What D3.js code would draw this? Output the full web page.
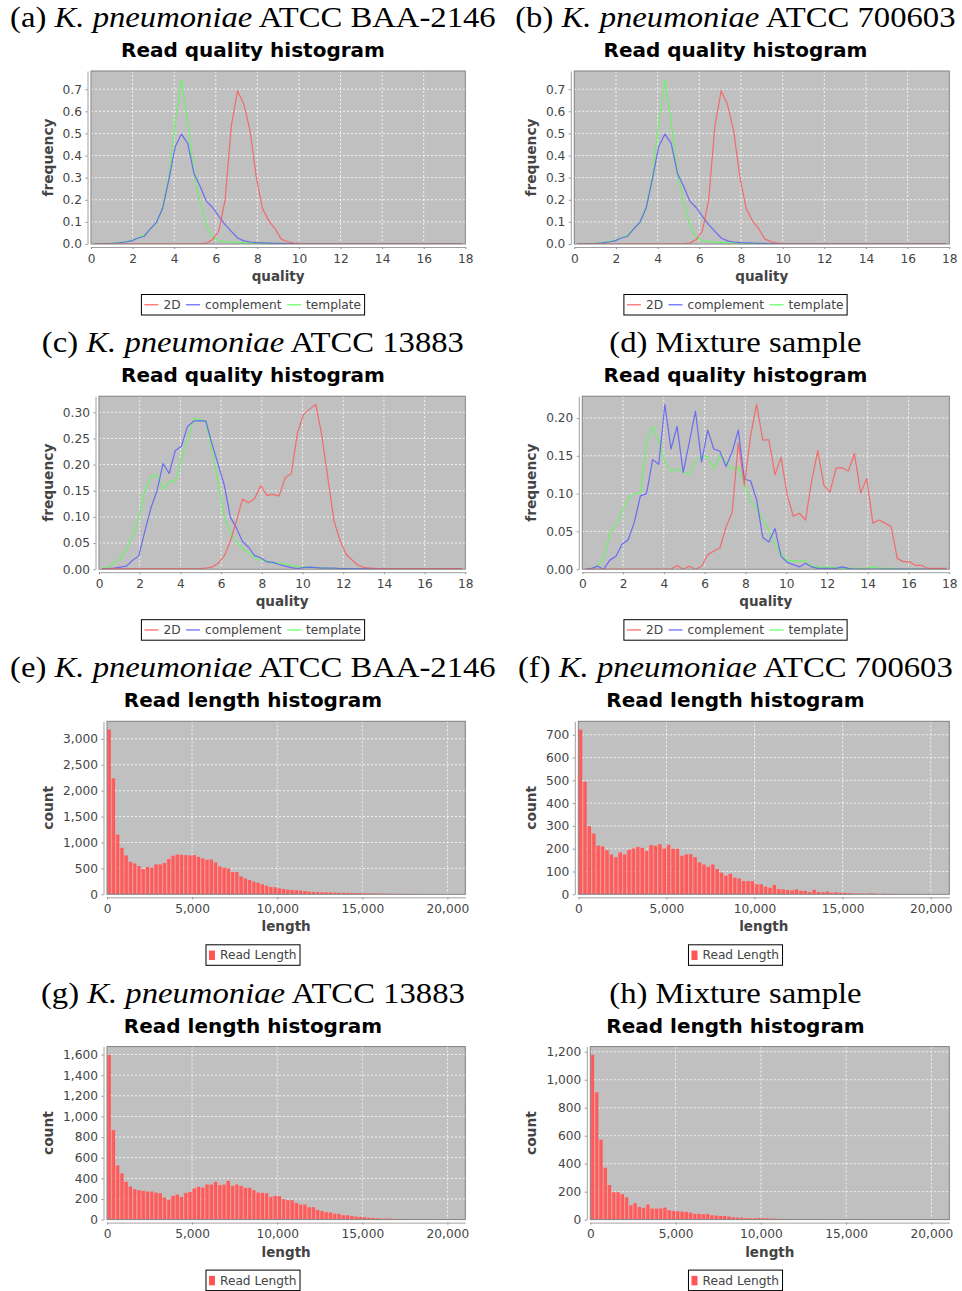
<!DOCTYPE html>
<html>
<head>
<meta charset="utf-8">
<script src="https://cdnjs.cloudflare.com/ajax/libs/d3/7.8.5/d3.min.js"></script>
<style>
body { margin: 0; background: #fff; }
svg { display: block; }
</style>
</head>
<body>
<script>
// quality bin centres
const qualityBins = [0.15,0.45,0.75,1.05,1.35,1.65,1.95,2.25,2.55,2.85,3.15,3.45,3.75,4.05,4.35,4.65,4.95,5.25,5.55,5.85,
  6.15,6.45,6.75,7.05,7.35,7.65,7.95,8.25,8.55,8.85,9.15,9.45,9.75,10.05,10.35,10.65,10.95,11.25,11.55,11.85,
  12.15,12.45,12.75,13.05,13.35,13.65,13.95,14.25,14.55,14.85,15.15,15.45,15.75,16.05,16.35,16.65,16.95,17.25,17.55,17.85];

const seriesNames = ["2D", "complement", "template"];
const seriesColors = ["#ff5555", "#5555ff", "#55ff55"];

// BAA-2146 (a), also 700603 (b) looks the same
const a2D = [0.001,0.001,0.001,0.001,0.001,0.001,0.001,0.001,0.001,0.001,
  0.001,0.001,0.001,0.001,0.001,0.001,0.001,0.002,0.004,0.02,
  0.06,0.2,0.535,0.692,0.632,0.512,0.3,0.16,0.105,0.07,
  0.022,0.01,0.004,0.002,0.001,0.001,0.001,0.001,0.001,0.001,
  0.001,0.001,0.001,0.001,0.001,0.001,0.001,0.001,0.001,0.001,
  0.001,0.001,0.001,0.001,0.001,0.001,0.001,0.001,0.001,0.001];
const aComplement = [0,0.001,0.002,0.003,0.005,0.009,0.014,0.027,0.034,0.068,
  0.098,0.163,0.295,0.44,0.497,0.455,0.32,0.26,0.193,0.165,
  0.125,0.088,0.057,0.027,0.014,0.009,0.006,0.005,0.004,0.003,
  0.003,0.002,0.002,0.001,0.001,0.001,0.001,0.001,0.001,0.001,
  0.001,0.001,0.001,0.001,0.001,0.001,0.001,0.001,0.001,0.001,
  0.001,0.001,0.001,0.001,0.001,0.001,0.001,0.001,0.001,0.001];
const aTemplate = [0.001,0.002,0.003,0.004,0.006,0.01,0.016,0.026,0.04,0.066,
  0.097,0.165,0.302,0.55,0.745,0.55,0.32,0.188,0.085,0.03,
  0.016,0.011,0.008,0.007,0.006,0.005,0.004,0.004,0.003,0.003,
  0.002,0.002,0.002,0.002,0.002,0.001,0.001,0.001,0.001,0.001,
  0.001,0.001,0.001,0.001,0.001,0.001,0.001,0.001,0.001,0.001,
  0.001,0.001,0.001,0.001,0.001,0.001,0.001,0.001,0.001,0.001];

// 13883 (c)
const c2D = [0.001,0.001,0.001,0.001,0.001,0.001,0.001,0.001,0.001,0.001,
  0.001,0.001,0.001,0.001,0.001,0.001,0.001,0.002,0.004,0.011,
  0.025,0.053,0.092,0.134,0.127,0.135,0.16,0.141,0.143,0.14,
  0.175,0.183,0.26,0.296,0.306,0.315,0.256,0.173,0.092,0.054,
  0.028,0.017,0.007,0.003,0.002,0.001,0.001,0.001,0.001,0.001,
  0.001,0.001,0.001,0.001,0.001,0.001,0.001,0.001,0.001,0.001];
const cComplement = [0,0.001,0.002,0.004,0.006,0.017,0.025,0.072,0.117,0.15,
  0.202,0.183,0.227,0.235,0.273,0.283,0.284,0.283,0.24,0.201,
  0.162,0.1,0.079,0.053,0.042,0.026,0.022,0.014,0.013,0.009,
  0.006,0.003,0.001,0.003,0.004,0.003,0.002,0.002,0.002,0.001,
  0.001,0.001,0.001,0.001,0.001,0.001,0.001,0.001,0.001,0.001,
  0.001,0.001,0.001,0.001,0.001,0.001,0.001,0.001,0.001,0.001];
const cTemplate = [0.001,0.004,0.012,0.021,0.037,0.065,0.098,0.15,0.177,0.181,
  0.153,0.167,0.168,0.212,0.245,0.288,0.286,0.282,0.227,0.168,
  0.102,0.07,0.053,0.04,0.032,0.022,0.018,0.015,0.012,0.011,
  0.01,0.007,0.005,0.004,0.004,0.003,0.002,0.002,0.001,0.001,
  0.001,0.001,0.001,0.001,0.001,0.001,0.001,0.001,0.001,0.001,
  0.001,0.001,0.001,0.001,0.001,0.001,0.001,0.001,0.001,0.001];

// mixture (d)
const d2D = [0,0,0,0,0,0,0,0,0,0,
  0,0,0,0,0,0.005,0,0.004,0,0.004,
  0.019,0.024,0.028,0.056,0.075,0.167,0.111,0.176,0.218,0.171,
  0.171,0.125,0.148,0.098,0.07,0.074,0.065,0.117,0.157,0.111,
  0.102,0.134,0.134,0.13,0.153,0.101,0.12,0.061,0.065,0.061,
  0.056,0.014,0.01,0.01,0.005,0.005,0.001,0.001,0.001,0.001];
const dComplement = [0,0.001,0.004,0,0.012,0.017,0.033,0.039,0.062,0.097,
  0.1,0.145,0.139,0.218,0.159,0.189,0.128,0.168,0.209,0.142,
  0.184,0.159,0.156,0.136,0.155,0.184,0.119,0.117,0.092,0.042,
  0.036,0.054,0.017,0.009,0.006,0.003,0.008,0.003,0.001,0.001,
  0.001,0.001,0.003,0.001,0,0,0,0,0,0,
  0,0,0,0,0,0,0,0,0,0];
const dTemplate = [0,0,0.004,0.015,0.047,0.058,0.076,0.094,0.1,0.101,
  0.168,0.189,0.17,0.142,0.129,0.133,0.129,0.125,0.143,0.15,
  0.149,0.133,0.151,0.142,0.132,0.135,0.113,0.09,0.08,0.066,
  0.052,0.032,0.021,0.011,0.011,0.011,0.011,0.004,0.003,0.003,
  0.002,0.002,0.001,0.001,0.001,0.001,0.001,0.003,0.001,0.001,
  0.001,0,0,0,0,0,0,0,0,0];

// read length histograms, bins of 250
const lengthBinWidth = 250;
const eLength = [3180,2237,1154,897,750,628,596,545,487,526,
  513,577,577,603,680,744,769,763,756,750,
  756,724,692,667,673,615,538,513,500,429,
  429,346,308,276,244,224,192,167,141,135,
  115,103,90,83,77,70,64,51,45,44,
  40,38,36,34,32,30,28,26,25,22,
  20,19,17,15,14,13,12,11,10,9,
  9,8,8,7,7,6,6,5,5,5,
  4,4,3,3];
const fLength = [723,494,299,267,214,210,194,175,163,184,
  175,195,201,208,204,190,216,213,220,201,
  217,200,200,169,175,176,163,140,131,121,
  131,111,95,82,90,73,69,58,58,58,
  44,44,34,29,41,23,22,19,17,22,
  15,15,10,20,10,9,12,7,9,7,
  6,5,4,4,3,3,4,3,2,3,
  2,2,2,1,2,1,2,1,1,2,
  1,1,1,1];
const gLength = [1597,868,525,447,366,321,295,285,279,272,
  272,262,256,214,194,230,243,220,259,269,
  301,317,311,340,340,366,334,340,376,327,
  340,327,308,308,285,262,259,256,220,230,
  227,198,188,188,162,146,146,120,120,94,
  84,71,68,58,55,42,42,36,29,26,
  23,19,16,13,10,10,10,8,6,6,
  5,5,4,4,4,3,3,3,2,2,
  2,2,2,1];
const hLength = [1178,910,572,371,247,196,196,182,160,103,
  117,91,84,108,79,79,79,86,67,62,
  60,57,55,50,41,41,38,41,31,29,
  26,26,22,17,15,14,10,10,10,12,
  10,10,7,7,5,5,4,4,4,3,
  3,3,3,3,2,2,2,2,2,2,
  2,2,5,2,1,1,1,1,1,1,
  2,1,1,1,1,1,1,1,1,1,
  1,1,1,1];

const qualityTicks = [0,2,4,6,8,10,12,14,16,18];
const lengthTicks = [0,5000,10000,15000,20000];
const yTicksA = [0,0.1,0.2,0.3,0.4,0.5,0.6,0.7];
const yTicksC = [0,0.05,0.1,0.15,0.2,0.25,0.3];
const yTicksD = [0,0.05,0.1,0.15,0.2];
const yTicksE = [0,500,1000,1500,2000,2500,3000];
const yTicksF = [0,100,200,300,400,500,600,700];
const yTicksG = [0,200,400,600,800,1000,1200,1400,1600];
const yTicksH = [0,200,400,600,800,1000,1200];

const width = 962, height = 1291;
const sans = "DejaVu Sans, sans-serif";

const svg = d3.select("body").append("svg")
  .attr("width", width)
  .attr("height", height);

const defs = svg.append("defs");
const grad = defs.append("linearGradient").attr("id", "barGrad")
  .attr("x1", 0).attr("x2", 1).attr("y1", 0).attr("y2", 0);
grad.append("stop").attr("offset", "0%").attr("stop-color", "#ff8c8c");
grad.append("stop").attr("offset", "30%").attr("stop-color", "#ff6060");
grad.append("stop").attr("offset", "100%").attr("stop-color", "#fb5656");

const colCenter = [253, 735.5];
const plotRight = [465.3, 949.3];
const yLabelX = [52.5, 536];
const rowTop = [0, 325.2, 650.3, 975.6];

const panels = [
  {id: "a", col: 0, row: 0, strain: "ATCC BAA-2146", kind: "quality", left: 91, series: [a2D, aComplement, aTemplate], yTicks: yTicksA, yFormat: ".1f"},
  {id: "b", col: 1, row: 0, strain: "ATCC 700603", kind: "quality", left: 574.3, series: [a2D, aComplement, aTemplate], yTicks: yTicksA, yFormat: ".1f"},
  {id: "c", col: 0, row: 1, strain: "ATCC 13883", kind: "quality", left: 99, series: [c2D, cComplement, cTemplate], yTicks: yTicksC, yFormat: ".2f"},
  {id: "d", col: 1, row: 1, strain: null, kind: "quality", left: 582.3, series: [d2D, dComplement, dTemplate], yTicks: yTicksD, yFormat: ".2f"},
  {id: "e", col: 0, row: 2, strain: "ATCC BAA-2146", kind: "length", left: 107, counts: eLength, yTicks: yTicksE, yFormat: ","},
  {id: "f", col: 1, row: 2, strain: "ATCC 700603", kind: "length", left: 578.3, counts: fLength, yTicks: yTicksF, yFormat: ","},
  {id: "g", col: 0, row: 3, strain: "ATCC 13883", kind: "length", left: 107, counts: gLength, yTicks: yTicksG, yFormat: ","},
  {id: "h", col: 1, row: 3, strain: null, kind: "length", left: 590.3, counts: hLength, yTicks: yTicksH, yFormat: ","}
];

panels.forEach(drawPanel);

function drawPanel(p) {
  const base = rowTop[p.row];
  const top = base + 71, bottom = base + 244;
  const left = p.left, right = plotRight[p.col];
  const cx = colCenter[p.col];
  const g = svg.append("g");

  // caption (LaTeX style)
  let cap = g.append("text")
    .attr("font-family", "Liberation Serif, serif")
    .attr("font-size", 30)
    .style("white-space", "pre");
  cap.append("tspan").text("(" + p.id + ") ");
  if (p.strain) {
    cap.append("tspan").attr("font-style", "italic").text("K. pneumoniae");
    cap.append("tspan").text(" " + p.strain);
  } else {
    cap.append("tspan").text("Mixture sample");
  }
  let cw = cap.node().getComputedTextLength() * 1.09;
  cap.attr("transform", "translate(" + (cx - cw / 2) + "," + (base + 27) + ") scale(1.09,1)");

  g.append("text")
    .attr("x", cx)
    .attr("y", base + 57)
    .attr("text-anchor", "middle")
    .attr("font-family", sans)
    .attr("font-weight", "bold")
    .attr("font-size", 20)
    .text(p.kind == "quality" ? "Read quality histogram" : "Read length histogram");

  let x = d3.scaleLinear()
    .domain(p.kind == "quality" ? [0, 18] : [0, 21050])
    .range([left, right]);

  let ymax = p.kind == "quality" ? d3.max(p.series, s => d3.max(s)) : d3.max(p.counts);
  let y = d3.scaleLinear()
    .domain([0, ymax * 1.05])
    .range([bottom, top]);

  let xTicks = p.kind == "quality" ? qualityTicks : lengthTicks;

  g.append("rect")
    .attr("x", left).attr("y", top)
    .attr("width", right - left).attr("height", bottom - top)
    .attr("fill", "#c0c0c0");

  g.selectAll(".vgrid")
    .data(xTicks)
    .join("line")
    .attr("x1", d => x(d)).attr("x2", d => x(d))
    .attr("y1", top).attr("y2", bottom)
    .attr("stroke", "#ffffff").attr("stroke-width", 0.8)
    .attr("stroke-dasharray", "2,2");

  g.selectAll(".hgrid")
    .data(p.yTicks)
    .join("line")
    .attr("x1", left).attr("x2", right)
    .attr("y1", d => y(d)).attr("y2", d => y(d))
    .attr("stroke", "#ffffff").attr("stroke-width", 0.8)
    .attr("stroke-dasharray", "2,2");

  let clipId = "clip-" + p.id;
  defs.append("clipPath").attr("id", clipId)
    .append("rect")
    .attr("x", left).attr("y", top)
    .attr("width", right - left).attr("height", bottom - top);

  let marks = g.append("g").attr("clip-path", "url(#" + clipId + ")");

  if (p.kind == "quality") {
    let line = d3.line()
      .x((d, i) => x(qualityBins[i]))
      .y(d => y(d));
    // series 0 is drawn last (on top)
    [2, 1, 0].forEach(si => {
      marks.append("path")
        .datum(p.series[si])
        .attr("d", line)
        .attr("fill", "none")
        .attr("stroke", seriesColors[si])
        .attr("stroke-opacity", 0.8)
        .attr("stroke-width", 1.2)
        .attr("stroke-linejoin", "round");
    });
  } else {
    marks.selectAll("rect")
      .data(p.counts)
      .join("rect")
      .attr("x", (d, i) => x(i * lengthBinWidth))
      .attr("width", (d, i) => Math.max(0, x((i + 1) * lengthBinWidth) - x(i * lengthBinWidth) - 0.45))
      .attr("y", d => y(d))
      .attr("height", d => bottom - y(d))
      .attr("fill", "url(#barGrad)");
  }

  g.append("rect")
    .attr("x", left).attr("y", top)
    .attr("width", right - left).attr("height", bottom - top)
    .attr("fill", "none")
    .attr("stroke", "#808080")
    .attr("stroke-width", 1);

  // axes
  let xAxis = g.append("g")
    .attr("transform", "translate(0," + (bottom + 3) + ")")
    .call(d3.axisBottom(x).tickValues(xTicks).tickFormat(d3.format(",")).tickSize(2).tickSizeOuter(0).tickPadding(5));

  let yAxis = g.append("g")
    .attr("transform", "translate(" + (left - 3.5) + ",0)")
    .call(d3.axisLeft(y).tickValues(p.yTicks).tickFormat(d3.format(p.yFormat)).tickSize(2).tickSizeOuter(0).tickPadding(3.5));

  [xAxis, yAxis].forEach(ax => {
    ax.select(".domain").attr("stroke", "#a0a0a0");
    ax.selectAll(".tick line").attr("stroke", "#909090");
    ax.selectAll(".tick text")
      .attr("fill", "#444")
      .attr("font-family", sans)
      .attr("font-size", 12.2);
  });

  g.append("text")
    .attr("x", (left + right) / 2)
    .attr("y", base + 281)
    .attr("text-anchor", "middle")
    .attr("font-family", sans)
    .attr("font-weight", "bold")
    .attr("font-size", 13.5)
    .attr("fill", "#444")
    .text(p.kind == "quality" ? "quality" : "length");

  g.append("text")
    .attr("transform", "translate(" + yLabelX[p.col] + "," + ((top + bottom) / 2) + ") rotate(-90)")
    .attr("text-anchor", "middle")
    .attr("font-family", sans)
    .attr("font-weight", "bold")
    .attr("font-size", 13.8)
    .attr("fill", "#444")
    .text(p.kind == "quality" ? "frequency" : "count");

  // legend
  let lg = g.append("g");
  let boxTop = base + 294.5, boxH = 20.5;
  let midY = boxTop + boxH / 2;
  let items = p.kind == "quality" ? seriesNames : ["Read Length"];
  let cursor = 0;
  let parts = [];
  items.forEach((name, i) => {
    let sym = p.kind == "quality" ? 14 : 6;
    let t = lg.append("text")
      .attr("font-family", sans)
      .attr("font-size", 12.2)
      .attr("fill", "#444")
      .attr("y", midY + 4.3)
      .text(name);
    let tw = t.node().getComputedTextLength();
    parts.push({t: t, sym: sym, start: cursor, color: p.kind == "quality" ? seriesColors[i] : "#ff5555"});
    cursor += sym + 5 + tw + (i < items.length - 1 ? 5.5 : 0);
  });
  let padL = 3, padR = 3.5;
  let boxW = padL + cursor + padR;
  let boxX = cx - boxW / 2;
  lg.insert("rect", ":first-child")
    .attr("x", boxX).attr("y", boxTop)
    .attr("width", boxW).attr("height", boxH)
    .attr("fill", "#fff")
    .attr("stroke", "#000")
    .attr("stroke-width", 1);
  parts.forEach(pt => {
    let sx = boxX + padL + pt.start;
    if (p.kind == "quality") {
      lg.append("line")
        .attr("x1", sx).attr("x2", sx + pt.sym)
        .attr("y1", midY).attr("y2", midY)
        .attr("stroke", pt.color).attr("stroke-opacity", 0.8).attr("stroke-width", 1.4);
    } else {
      lg.append("rect")
        .attr("x", sx).attr("y", midY - 4.5)
        .attr("width", pt.sym).attr("height", 9.5)
        .attr("fill", pt.color);
    }
    pt.t.attr("x", sx + pt.sym + 5);
  });
}
</script>
</body>
</html>
